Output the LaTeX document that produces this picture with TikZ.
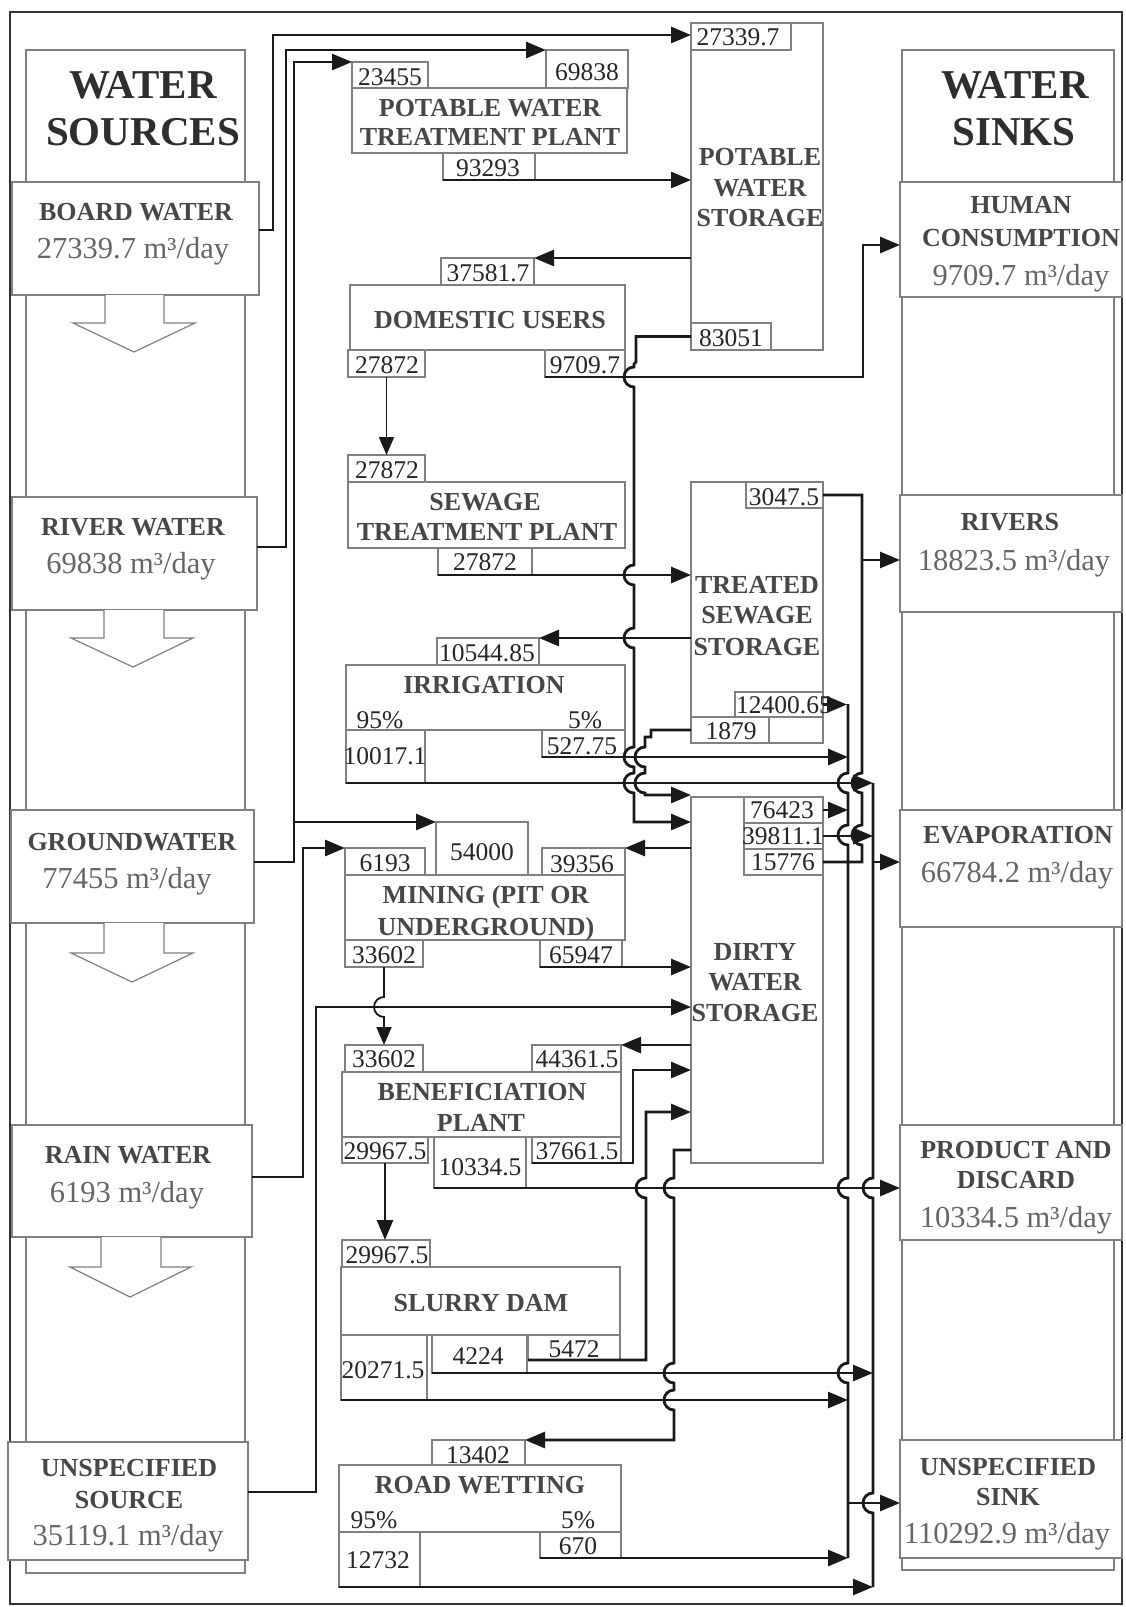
\documentclass[tikz,border=0pt]{standalone}
\usepackage{fontspec}
\setmainfont{Liberation Serif}
\usetikzlibrary{arrows.meta}
\newcommand\hopd[2]{-- (#1,{#2-10}) arc[start angle=270,end angle=90,radius=10]}
\newcommand\hopu[2]{-- (#1,{#2+10}) arc[start angle=90,end angle=270,radius=10]}
\newcommand\B[5]{\node[bx,minimum width={#4-#2},minimum height={#5-#3}] (#1) at (#2,#3) {};}
\tikzset{
  frm/.style={draw=black!80, line width=2pt},
  col/.style={draw=black!50, line width=1.2pt},
  bx/.style={draw=black!50, line width=1.2pt, fill=white, inner sep=0pt, outer sep=0pt, anchor=north west},
  fl/.style={line width=2.8pt, draw=black!90, -{Triangle[length=20pt,width=16pt]}},
  fln/.style={line width=2.8pt, draw=black!90},
  flt/.style={line width=1.8pt, draw=black!90, -{Triangle[length=18pt,width=15pt]}},
  lbl/.style={font=\fontsize{26}{30}\selectfont\bfseries, text=black!72, inner sep=0pt, text height=17pt, text depth=0pt},
  big/.style={font=\fontsize{41}{47}\selectfont\bfseries, text=black!82, inner sep=0pt, text height=27pt, text depth=0pt},
  val/.style={font=\fontsize{30.5}{34}\selectfont, text=black!60, inner sep=0pt, text height=20.6pt, text depth=0pt},
  num/.style={font=\fontsize{25.5}{28}\selectfont, text=black!85, inner sep=0pt, text height=17.2pt, text depth=0pt},
}
\begin{document}
\begin{tikzpicture}[x=1pt,y=-1pt]
\useasboundingbox (0,0) rectangle (1125,1607);
\draw[frm] (10,12) rectangle (1122,1604);
% columns
\draw[col] (26,50) rectangle (245,1573);
\draw[col] (902,50) rectangle (1114,1570);
% source boxes
\B{board}{12}{182}{259}{295}
\B{river}{12}{497}{257}{610}
\B{ground}{11}{810}{254}{923}
\B{rain}{12}{1125}{252}{1237}
\B{usrc}{8}{1442}{248}{1560}
% sink boxes
\B{human}{900}{182}{1122}{297}
\B{rivers}{900}{495}{1122}{612}
\B{evap}{900}{810}{1122}{927}
\B{prod}{900}{1125}{1122}{1240}
\B{usink}{900}{1440}{1122}{1558}
% block arrows
\draw[col,fill=white] (105,295) -- (105,323) -- (73,323) -- (134,352) -- (195,323) -- (164,323) -- (164,295);
\draw[col,fill=white] (104,610) -- (104,638) -- (71,638) -- (133,667) -- (193,638) -- (164,638) -- (164,610);
\draw[col,fill=white] (104,923) -- (104,953) -- (71,953) -- (132,982) -- (193,953) -- (164,953) -- (164,923);
\draw[col,fill=white] (101,1237) -- (101,1267) -- (70,1267) -- (130,1297) -- (191,1267) -- (161,1267) -- (161,1237);
% middle boxes
\B{n23455}{352}{62}{428}{88}
\B{n69838}{546}{50}{628}{88}
\B{pwtp}{352}{88}{627}{153}
\B{n93293}{443}{153}{535}{180}
\B{pws}{691}{23}{823}{350}
\B{n27339}{691}{23}{791}{50}
\B{n83051}{691}{323}{771}{350}
\B{n37581}{441}{258}{534}{285}
\B{du}{350}{285}{625}{350}
\B{n27872a}{348}{350}{425}{377}
\B{n9709}{545}{350}{625}{377}
\B{n27872b}{348}{455}{425}{482}
\B{stp}{348}{482}{625}{548}
\B{n27872c}{438}{548}{532}{575}
\B{tss}{691}{482}{823}{743}
\B{n3047}{746}{482}{823}{508}
\B{n12400}{735}{692}{823}{717}
\B{n1879}{691}{717}{769}{743}
\B{tssx}{769}{717}{823}{743}
\B{n10544}{437}{638}{539}{665}
\B{irr}{346}{665}{625}{730}
\B{n10017}{346}{730}{425}{783}
\B{n527}{542}{730}{625}{757}
\B{n54000}{436}{822}{528}{875}
\B{n6193}{345}{848}{425}{875}
\B{n39356}{542}{848}{625}{875}
\B{mine}{345}{875}{625}{940}
\B{n33602a}{345}{940}{423}{967}
\B{n65947}{540}{940}{622}{967}
\B{dws}{691}{797}{823}{1163}
\B{n76423}{744}{797}{823}{823}
\B{n39811}{744}{823}{823}{849}
\B{n15776}{744}{849}{823}{875}
\B{n33602b}{345}{1045}{423}{1072}
\B{n44361}{532}{1045}{621}{1072}
\B{ben}{342}{1072}{621}{1137}
\B{n29967a}{342}{1137}{428}{1163}
\B{n10334}{434}{1137}{526}{1188}
\B{n37661}{532}{1137}{621}{1163}
\B{n29967b}{342}{1240}{430}{1267}
\B{sd}{341}{1267}{620}{1335}
\B{n20271}{341}{1335}{427}{1400}
\B{n4224}{432}{1335}{527}{1373}
\B{n5472}{528}{1335}{620}{1360}
\B{n13402}{432}{1440}{525}{1465}
\B{rw}{339}{1465}{621}{1532}
\B{n12732}{339}{1532}{420}{1587}
\B{n670}{540}{1532}{621}{1558}
% connectors from sources
\draw[fl] (259,230) -- (273,230) -- (273,35) -- (691,35);
\draw[fl] (257,547) -- (286,547) -- (286,50) -- (n69838.north west);
\draw[fl] (254,862) -- (294,862) -- (294,62) -- (n23455.north west);
\draw[fl] (294,822) -- (n54000.north west);
\draw[fl] (252,1177) -- (303,1177) -- (303,848) -- (n6193.north west);
\draw[fl] (248,1492) -- (316,1492) -- (316,1007) -- (691,1007);
% internal connectors
\draw[fl] (n93293.south west) -- (n93293.south west -| pws.west);
\draw[fl] (pws.west |- n37581.north east) -- (n37581.north east);
\draw[fl] (n83051.west) -- (636,336.5) -- (636,362) -- (634,364) \hopd{634}{377} \hopd{634}{575} \hopd{634}{638} \hopd{634}{757} \hopd{634}{783} -- (634,822) -- (691,822);
\draw[fl] (n1879.west) -- (651,730) -- (651,737) -- (645,737) \hopd{645}{757} \hopd{645}{783} -- (645,795) -- (691,795);
\draw[fl] (n9709.south west) -- (863,377) -- (863,245) -- (900,245);
\draw[flt] (n27872a.south) -- (n27872b.north);
\draw[fl] (n27872c.south west) -- (n27872c.south west -| tss.west);
\draw[fl] (tss.west |- n10544.north east) -- (n10544.north east);
\draw[fln] (n3047.east) -- (862,495) \hopd{862}{783} \hopd{862}{835} -- (862,862) -- (n15776.east);
\draw[fl] (862,560) -- (900,560);
\draw[fl] (n12400.east) -- (847,704.5);
\draw[fln] (848,704) \hopd{848}{783} \hopd{848}{835} \hopd{848}{1188} \hopd{848}{1373} -- (848,1558);
\draw[fl] (848,1503) -- (900,1503);
\draw[fl] (n527.south west) -- (848,757);
\draw[fl] (n10017.south west) -- (873,783);
\draw[fl] (n76423.east) -- (848,810);
\draw[fl] (n39811.east) -- (873,836);
\draw[fln] (873,783) \hopd{873}{1188} \hopd{873}{1503} -- (873,1587);
\draw[fl] (873,862) -- (900,862);
\draw[fl] (dws.west |- n39356.north east) -- (n39356.north east);
\draw[fl] (n65947.south west) -- (n65947.south west -| dws.west);
\draw[flt] (n33602a.south) \hopd{384}{1007} -- (n33602b.north);
\draw[fl] (dws.west |- n44361.north east) -- (n44361.north east);
\draw[fl] (n37661.south west) -- (633,1163) -- (633,1070) -- (691,1070);
\draw[fl] (n5472.south west) -- (646,1360) \hopu{646}{1188} -- (646,1112) -- (691,1112);
\draw[fl] (691,1150) -- (674,1150) \hopd{674}{1188} \hopd{674}{1373} \hopd{674}{1400} -- (674,1440) -- (n13402.north east);
\draw[fl] (n10334.south west) -- (900,1188);
\draw[fl] (385,1163) -- (385,1240);
\draw[fl] (n4224.south west) -- (873,1373);
\draw[fl] (n20271.south west) -- (848,1400);
\draw[fl] (n670.south west) -- (848,1558);
\draw[fl] (n12732.south west) -- (873,1587);
% headings
\node[big] (hs1) at (143,85) {WATER};
\node[big] (hs2) at (143,132) {SOURCES};
\node[big] (hk1) at (1015,85) {WATER};
\node[big] (hk2) at (1014,132) {SINKS};
% source texts
\node[lbl] (tb1) at (136,212) {BOARD WATER};
\node[val] (tb2) at (133,248) {27339.7 m³/day};
\node[lbl] (tr1) at (133,527) {RIVER WATER};
\node[val] (tr2) at (131,563) {69838 m³/day};
\node[lbl] (tg1) at (132,842) {GROUNDWATER};
\node[val] (tg2) at (127,878) {77455 m³/day};
\node[lbl] (tn1) at (128,1155) {RAIN WATER};
\node[val] (tn2) at (127,1192) {6193 m³/day};
\node[lbl] (tu1) at (129,1468) {UNSPECIFIED};
\node[lbl] (tu2) at (129,1500) {SOURCE};
\node[val] (tu3) at (128,1535) {35119.1 m³/day};
% sink texts
\node[lbl] (sh1) at (1021,205) {HUMAN};
\node[lbl] (sh2) at (1021,238) {CONSUMPTION};
\node[val] (sh3) at (1021,275) {9709.7 m³/day};
\node[lbl] (sr1) at (1010,522) {RIVERS};
\node[val] (sr2) at (1014,560) {18823.5 m³/day};
\node[lbl] (se1) at (1018,835) {EVAPORATION};
\node[val] (se2) at (1017,872) {66784.2 m³/day};
\node[lbl] (sp1) at (1016,1150) {PRODUCT AND};
\node[lbl] (sp2) at (1016,1180) {DISCARD};
\node[val] (sp3) at (1016,1217) {10334.5 m³/day};
\node[lbl] (su1) at (1008,1467) {UNSPECIFIED};
\node[lbl] (su2) at (1008,1497) {SINK};
\node[val] (su3) at (1007,1533) {110292.9 m³/day};
% middle labels
\node[lbl] (l1) at (490,108) {POTABLE WATER};
\node[lbl] (l2) at (490,137) {TREATMENT PLANT};
\node[lbl] (l3) at (760,157) {POTABLE};
\node[lbl] (l4) at (760,188) {WATER};
\node[lbl] (l5) at (760,218) {STORAGE};
\node[lbl] (l6) at (490,320) {DOMESTIC USERS};
\node[lbl] (l7) at (485,502) {SEWAGE};
\node[lbl] (l8) at (487,532) {TREATMENT PLANT};
\node[lbl] (l9) at (757,585) {TREATED};
\node[lbl] (l10) at (757,615) {SEWAGE};
\node[lbl] (l11) at (757,647) {STORAGE};
\node[lbl] (l12) at (484,685) {IRRIGATION};
\node[num] (l13) at (380,720) {95\%};
\node[num] (l14) at (585,720) {5\%};
\node[lbl] (l15) at (486,895) {MINING (PIT OR};
\node[lbl] (l16) at (486,927) {UNDERGROUND)};
\node[lbl] (l17) at (755,952) {DIRTY};
\node[lbl] (l18) at (755,982) {WATER};
\node[lbl] (l19) at (755,1013) {STORAGE};
\node[lbl] (l20) at (482,1092) {BENEFICIATION};
\node[lbl] (l21) at (481,1123) {PLANT};
\node[lbl] (l22) at (481,1303) {SLURRY DAM};
\node[lbl] (l23) at (480,1485) {ROAD WETTING};
\node[num] (l24) at (374,1520) {95\%};
\node[num] (l25) at (578,1520) {5\%};
% numbers
\node[num] (v1) at (390,77) {23455};
\node[num] (v2) at (587,72) {69838};
\node[num] (v3) at (488,168) {93293};
\node[num] (v4) at (738,37) {27339.7};
\node[num] (v5) at (731,338) {83051};
\node[num] (v6) at (488,273) {37581.7};
\node[num] (v7) at (387,365) {27872};
\node[num] (v8) at (585,365) {9709.7};
\node[num] (v9) at (387,470) {27872};
\node[num] (v10) at (485,562) {27872};
\node[num] (v11) at (784,497) {3047.5};
\node[num] (v12) at (784,705) {12400.65};
\node[num] (v13) at (731,731) {1879};
\node[num] (v14) at (487,653) {10544.85};
\node[num] (v15) at (385,756) {10017.1};
\node[num] (v16) at (582,746) {527.75};
\node[num] (v17) at (482,852) {54000};
\node[num] (v18) at (385,863) {6193};
\node[num] (v19) at (582,864) {39356};
\node[num] (v20) at (384,955) {33602};
\node[num] (v21) at (581,955) {65947};
\node[num] (v22) at (782,810) {76423};
\node[num] (v23) at (783,836) {39811.1};
\node[num] (v24) at (783,862) {15776};
\node[num] (v25) at (384,1059) {33602};
\node[num] (v26) at (577,1059) {44361.5};
\node[num] (v27) at (385,1151) {29967.5};
\node[num] (v28) at (480,1167) {10334.5};
\node[num] (v29) at (577,1151) {37661.5};
\node[num] (v30) at (387,1255) {29967.5};
\node[num] (v31) at (383,1370) {20271.5};
\node[num] (v32) at (478,1356) {4224};
\node[num] (v33) at (574,1349) {5472};
\node[num] (v34) at (478,1455) {13402};
\node[num] (v35) at (378,1560) {12732};
\node[num] (v36) at (578,1546) {670};
\end{tikzpicture}
\end{document}
